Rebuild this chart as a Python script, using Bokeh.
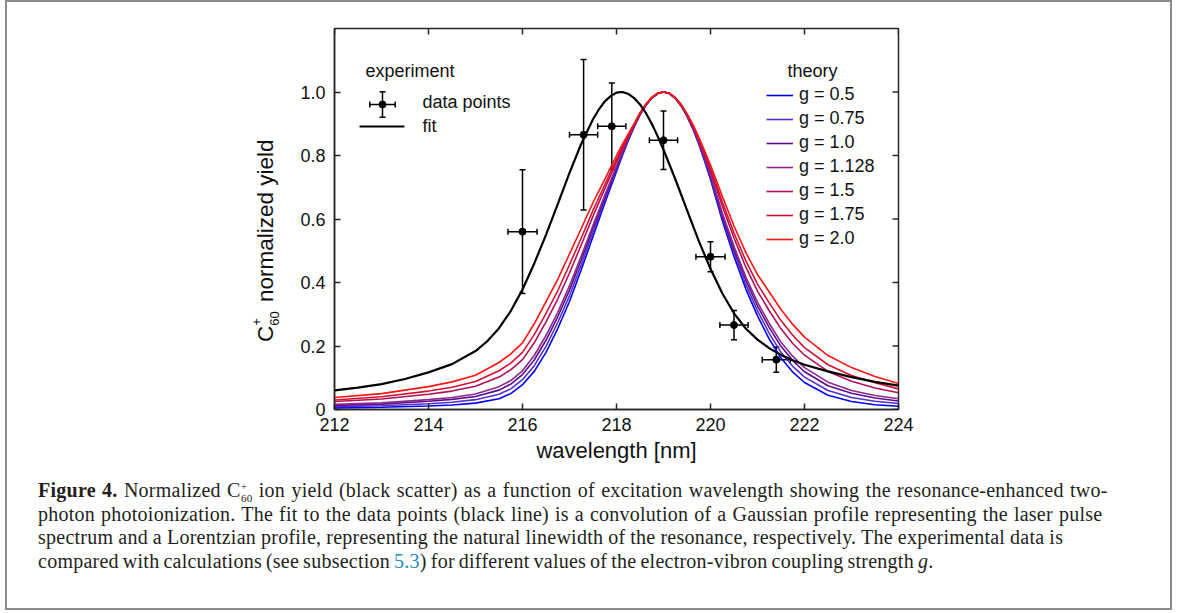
from bokeh.plotting import figure
from bokeh.models import (Range1d, FixedTicker, Whisker, TeeHead,
                          ColumnDataSource, Legend, LegendItem, Label, Div)
from bokeh.layouts import column, row
from bokeh.embed import file_html
from bokeh.resources import INLINE

# ---------------- data ----------------
wl_points = [216.0, 217.3, 217.9, 219.0, 220.0, 220.5, 221.4]
yield_points = [0.56, 0.865, 0.892, 0.848, 0.481, 0.266, 0.157]
yield_err = [0.195, 0.237, 0.136, 0.092, 0.047, 0.046, 0.040]
wl_err = [0.31, 0.30, 0.30, 0.30, 0.31, 0.30, 0.30]

fit_wl = [212, 212.5, 213, 213.5, 214, 214.5, 215, 215.25, 215.5, 215.75, 216, 216.25,
          216.5, 216.75, 217, 217.25, 217.5, 217.625, 217.75, 217.875, 218, 218.125,
          218.25, 218.375, 218.5, 218.625, 218.75, 218.875, 219, 219.25, 219.5, 219.75,
          220, 220.25, 220.5, 220.75, 221, 221.25, 221.5, 221.75, 222, 222.5, 223,
          223.5, 224]
fit_yield = [0.060, 0.069, 0.080, 0.096, 0.117, 0.143, 0.184, 0.215, 0.256, 0.310, 0.378,
             0.460, 0.550, 0.647, 0.745, 0.837, 0.914, 0.945, 0.970, 0.987, 0.998, 1.000,
             0.994, 0.981, 0.961, 0.934, 0.900, 0.861, 0.818, 0.726, 0.628, 0.531, 0.443,
             0.366, 0.303, 0.255, 0.220, 0.193, 0.172, 0.155, 0.141, 0.120, 0.102, 0.087,
             0.075]

theory_wl = [212, 213, 214, 214.5, 215, 215.5, 215.75, 216, 216.25, 216.5, 216.75, 217,
             217.25, 217.5, 217.75, 218, 218.125, 218.25, 218.375, 218.5, 218.625, 218.75,
             218.875, 219, 219.125, 219.25, 219.375, 219.5, 219.625, 219.75, 219.875, 220,
             220.25, 220.5, 220.75, 221, 221.25, 221.5, 221.75, 222, 222.5, 223, 223.5, 224]
theory_g05 = [0.005, 0.007, 0.011, 0.014, 0.020, 0.034, 0.050, 0.078, 0.120, 0.180, 0.255,
              0.340, 0.440, 0.545, 0.650, 0.750, 0.800, 0.847, 0.890, 0.928, 0.958, 0.981,
              0.995, 1.000, 0.995, 0.980, 0.956, 0.924, 0.884, 0.836, 0.782, 0.725, 0.595,
              0.482, 0.380, 0.295, 0.222, 0.162, 0.118, 0.085, 0.045, 0.025, 0.015, 0.010]
theory_g075 = [0.009, 0.012, 0.018, 0.023, 0.031, 0.048, 0.065, 0.094, 0.138, 0.199, 0.274,
               0.358, 0.456, 0.558, 0.659, 0.756, 0.804, 0.850, 0.891, 0.929, 0.958, 0.981,
               0.995, 1.000, 0.995, 0.980, 0.957, 0.925, 0.886, 0.839, 0.786, 0.730, 0.604,
               0.494, 0.394, 0.311, 0.240, 0.180, 0.136, 0.102, 0.060, 0.038, 0.026, 0.019]
theory_g10 = [0.013, 0.017, 0.026, 0.032, 0.041, 0.061, 0.080, 0.110, 0.156, 0.218, 0.292,
              0.376, 0.471, 0.571, 0.668, 0.762, 0.808, 0.852, 0.892, 0.930, 0.959, 0.981,
              0.995, 1.000, 0.995, 0.981, 0.957, 0.926, 0.887, 0.841, 0.790, 0.736, 0.613,
              0.505, 0.408, 0.326, 0.258, 0.199, 0.154, 0.119, 0.075, 0.051, 0.036, 0.027]
theory_g1128 = [0.016, 0.021, 0.031, 0.038, 0.049, 0.072, 0.091, 0.122, 0.170, 0.233, 0.306,
                0.390, 0.483, 0.580, 0.675, 0.767, 0.812, 0.854, 0.893, 0.930, 0.959, 0.982,
                0.995, 1.000, 0.995, 0.981, 0.958, 0.927, 0.889, 0.843, 0.793, 0.740, 0.620,
                0.514, 0.418, 0.338, 0.271, 0.212, 0.168, 0.132, 0.086, 0.060, 0.044, 0.034]
theory_g15 = [0.025, 0.033, 0.048, 0.058, 0.073, 0.102, 0.125, 0.157, 0.210, 0.276, 0.348,
              0.430, 0.518, 0.609, 0.695, 0.780, 0.821, 0.860, 0.896, 0.932, 0.960, 0.982,
              0.996, 1.000, 0.996, 0.982, 0.959, 0.929, 0.892, 0.849, 0.802, 0.752, 0.641,
              0.540, 0.449, 0.373, 0.311, 0.254, 0.208, 0.171, 0.120, 0.089, 0.068, 0.053]
theory_g175 = [0.030, 0.040, 0.058, 0.070, 0.088, 0.122, 0.146, 0.180, 0.236, 0.303, 0.374,
               0.456, 0.540, 0.627, 0.708, 0.789, 0.827, 0.863, 0.898, 0.933, 0.961, 0.983,
               0.996, 1.000, 0.996, 0.982, 0.960, 0.930, 0.895, 0.853, 0.807, 0.760, 0.654,
               0.556, 0.469, 0.395, 0.336, 0.280, 0.234, 0.195, 0.141, 0.107, 0.084, 0.065]
theory_g20 = [0.038, 0.050, 0.072, 0.087, 0.108, 0.148, 0.175, 0.210, 0.270, 0.340, 0.410,
              0.490, 0.570, 0.652, 0.725, 0.800, 0.835, 0.868, 0.900, 0.935, 0.962, 0.983,
              0.996, 1.000, 0.996, 0.983, 0.961, 0.932, 0.898, 0.858, 0.815, 0.770, 0.672,
              0.578, 0.495, 0.425, 0.370, 0.315, 0.268, 0.228, 0.170, 0.132, 0.104, 0.082]

g_labels = ["g = 0.5", "g = 0.75", "g = 1.0", "g = 1.128", "g = 1.5", "g = 1.75", "g = 2.0"]
g_colors = ["#0000ff", "#5530c8", "#5c0c8c", "#8c2a8c", "#b01058", "#d41030", "#ff1414"]
theory_series = [theory_g05, theory_g075, theory_g10, theory_g1128, theory_g15,
                 theory_g175, theory_g20]

x_ticks = [212, 214, 216, 218, 220, 222, 224]
y_ticks = [0, 0.2, 0.4, 0.6, 0.8, 1.0]
y_tick_labels = ["0", "0.2", "0.4", "0.6", "0.8", "1.0"]

# ---------------- layout geometry ----------------
FONT = "Liberation Sans"
AX = "#262626"
OX = 5                            # left offset of the boxed figure
TOTAL_W = 1163
YLAB_W = 290                      # width of the rotated y-title panel
W = TOTAL_W - YLAB_W              # plot width
H = 469                           # plot height
FL, FT, FR, FB = 332 - OX - YLAB_W, 26, 896 - OX - YLAB_W, 407
FW, FH = FR - FL, FB - FT

p = figure(width=W, height=H, x_range=Range1d(212, 224), y_range=Range1d(0, 1.2),
           output_backend="svg", toolbar_location=None,
           min_border_left=FL, min_border_right=W - FR,
           min_border_top=FT, min_border_bottom=H - FB)
p.grid.visible = False
p.outline_line_color = AX
p.outline_line_width = 1.5
p.background_fill_color = "white"
p.border_fill_color = "white"
p.extra_x_ranges = {"fpx": Range1d(0, FW)}
p.extra_y_ranges = {"fpy": Range1d(0, FH)}

for ax in (p.xaxis[0], p.yaxis[0]):
    ax.axis_line_color = AX
    ax.axis_line_width = 1.5
    ax.major_tick_line_color = AX
    ax.major_tick_line_width = 1.5
    ax.major_tick_in = 6
    ax.major_tick_out = 0
    ax.minor_tick_line_color = None
    ax.major_label_text_font = FONT
    ax.major_label_text_font_size = "18px"
    ax.major_label_text_color = "#111111"

p.xaxis.ticker = FixedTicker(ticks=x_ticks)
p.yaxis.ticker = FixedTicker(ticks=y_ticks)
p.yaxis.major_label_overrides = {t: s for t, s in zip(y_ticks, y_tick_labels)}
p.xaxis.major_label_standoff = 8
p.yaxis.major_label_standoff = 9
p.xaxis.axis_label = "wavelength [nm]"
p.xaxis.axis_label_text_font = FONT
p.xaxis.axis_label_text_font_size = "22px"
p.xaxis.axis_label_text_font_style = "normal"
p.xaxis.axis_label_text_color = "#111111"
p.xaxis.axis_label_standoff = 4

# inward ticks on the top and right frame edges
p.segment(x0=x_ticks, x1=x_ticks, y0=[FH - 6] * len(x_ticks), y1=[FH] * len(x_ticks),
          y_range_name="fpy", line_color=AX, line_width=1.5)
p.segment(x0=[FW - 6] * len(y_ticks), x1=[FW] * len(y_ticks), y0=y_ticks, y1=y_ticks,
          x_range_name="fpx", line_color=AX, line_width=1.5)

# theory curves
theory_renderers = []
for ys, col in zip(theory_series, g_colors):
    theory_renderers.append(p.line(theory_wl, ys, line_color=col, line_width=1.6))

# fit
p.line(fit_wl, fit_yield, line_color="black", line_width=2.2)

# data with error bars
src = ColumnDataSource(dict(
    x=wl_points, y=yield_points,
    y_lo=[y - e for y, e in zip(yield_points, yield_err)],
    y_hi=[y + e for y, e in zip(yield_points, yield_err)],
    x_lo=[x - e for x, e in zip(wl_points, wl_err)],
    x_hi=[x + e for x, e in zip(wl_points, wl_err)],
))
def head():
    return TeeHead(size=6, line_width=1.5, line_color="black")
p.add_layout(Whisker(source=src, base="x", lower="y_lo", upper="y_hi", dimension="height",
                     line_color="black", line_width=1.5, lower_head=head(), upper_head=head()))
p.add_layout(Whisker(source=src, base="y", lower="x_lo", upper="x_hi", dimension="width",
                     line_color="black", line_width=1.5, lower_head=head(), upper_head=head()))
p.scatter("x", "y", source=src, size=7, color="black")

# ---------------- experiment legend (frame-pixel space) ----------------
def txt(text, sx, sy):
    p.add_layout(Label(x=sx, y=sy, x_units="screen", y_units="screen", text=text,
                       text_align="left", text_baseline="alphabetic",
                       text_font=FONT, text_font_size="18px", text_color="#111111"))
txt("experiment", 31, 339)
txt("data points", 88, 308)
txt("fit", 88, 284)
txt("theory", 453, 339)

leg_src = ColumnDataSource(dict(x=[48], y=[305], xl=[35.3], xh=[60.7], yl=[292.3], yh=[317.7]))
p.add_layout(Whisker(source=leg_src, base="x", lower="yl", upper="yh", dimension="height",
                     x_range_name="fpx", y_range_name="fpy", line_color="black",
                     line_width=1.5, lower_head=head(), upper_head=head()))
p.add_layout(Whisker(source=leg_src, base="y", lower="xl", upper="xh", dimension="width",
                     x_range_name="fpx", y_range_name="fpy", line_color="black",
                     line_width=1.5, lower_head=head(), upper_head=head()))
p.scatter("x", "y", source=leg_src, size=7, color="black", x_range_name="fpx", y_range_name="fpy")
p.line([25, 70], [283, 283], line_color="black", line_width=2.2,
       x_range_name="fpx", y_range_name="fpy")

# ---------------- theory legend ----------------
leg = Legend(items=[LegendItem(label=l, renderers=[r]) for l, r in zip(g_labels, theory_renderers)],
             location=(432, 160), padding=0, margin=0, spacing=3,
             glyph_width=27, glyph_height=20, label_height=20, label_standoff=6,
             label_text_font=FONT, label_text_font_size="18px", label_text_color="#111111",
             border_line_color=None, background_fill_alpha=0)
p.add_layout(leg)

# ---------------- rotated y-axis title ----------------
ylab_html = (
    '<div style="position:relative;width:0;height:0;">'
    '<div style="position:absolute;left:246px;top:328px;transform:rotate(-90deg);'
    'transform-origin:0 0;white-space:nowrap;font-family:\'Liberation Sans\';'
    'font-size:22.5px;line-height:26px;color:#111111;">'
    'C<span style="font-size:13px;line-height:0;position:relative;top:-12.5px;'
    'margin-right:-7.6px">+</span>'
    '<span style="font-size:13px;line-height:0;position:relative;top:6px">60</span>'
    '<span style="margin-left:3px"> normalized yield</span></div></div>')
ylab = Div(text=ylab_html, width=YLAB_W, height=H, margin=0, styles={"overflow": "visible"})

# ---------------- caption ----------------
c60 = ('C<span style="font-size:11px;line-height:0;position:relative;top:-7.5px;'
       'margin-right:-6.2px">+</span>'
       '<span style="font-size:11px;line-height:0;position:relative;top:5px">60</span>')
cap_lines = [
    ('<b>Figure 4.</b> Normalized ' + c60 + ' ion yield (black scatter) as a function of '
     'excitation wavelength showing the resonance-enhanced two-', 1.05),
    ('photon photoionization. The fit to the data points (black line) is a convolution of a '
     'Gaussian profile representing the laser pulse', 0.75),
    ('spectrum and a Lorentzian profile, representing the natural linewidth of the resonance, '
     'respectively. The experimental data is', -0.3),
    ('compared with calculations (see subsection <span style="color:#2a8ac4">5.3</span>) for '
     'different values of the electron-vibron coupling strength <i>g</i>.', -1.25),
]
caption_html = (
    '<div style="font-family:\'Liberation Serif\';font-size:20px;letter-spacing:0.25px;'
    'line-height:23.6px;color:#231f20;padding-left:31px;padding-top:8px;white-space:nowrap;">'
    + '<br>'.join('<span style="word-spacing:%.2fpx">%s</span>' % (ws, s) for s, ws in cap_lines)
    + '</div>')
cap = Div(text=caption_html, width=TOTAL_W, height=606 - H, margin=0)

layout = column(row(ylab, p), cap, margin=(0, 0, 0, OX),
                styles={"border": "2px solid #8c8c8c", "background-color": "white"})

open("out.html", "w").write(file_html(layout, INLINE))
